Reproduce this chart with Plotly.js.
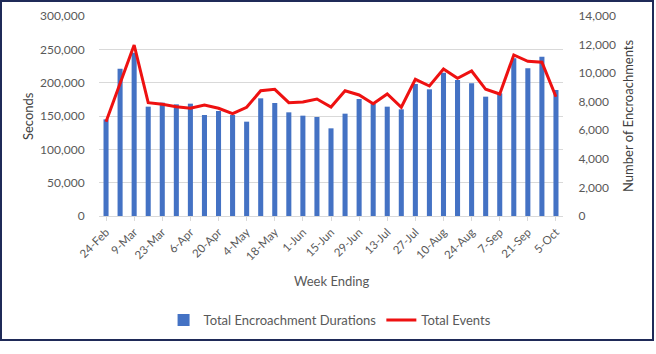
<!DOCTYPE html>
<html>
<head>
<meta charset="utf-8">
<script src="https://cdn.plot.ly/plotly-3.0.1.min.js"></script>
<style>
  html, body { margin: 0; padding: 0; background: #ffffff; }
  #wrap { position: relative; width: 656px; height: 354px; }
  #chart { position: absolute; left: 0; top: 0; width: 656px; height: 354px; }
  #frame { position: absolute; left: 0; top: 0; width: 650px; height: 337px;
           border: 2px solid #1f2a58; pointer-events: none; }
</style>
</head>
<body>
<div id="wrap">
  <div id="chart"></div>
  <div id="frame"></div>
</div>
<script>
const weeks = ["24-Feb","2-Mar","9-Mar","16-Mar","23-Mar","30-Mar","6-Apr","13-Apr","20-Apr","27-Apr",
  "4-May","11-May","18-May","25-May","1-Jun","8-Jun","15-Jun","22-Jun","29-Jun","6-Jul","13-Jul",
  "20-Jul","27-Jul","3-Aug","10-Aug","17-Aug","24-Aug","31-Aug","7-Sep","14-Sep","21-Sep","28-Sep","5-Oct"];

const durations = [145000, 221000, 245000, 164000, 170000, 167500, 168500, 151500, 157500, 151500,
  141500, 176500, 169500, 155500, 150500, 148500, 131500, 153500, 175500, 168000, 164000,
  160000, 198000, 190000, 215000, 204000, 199000, 179000, 184000, 236500, 221500, 239000, 189000];

const events = [6600, 9300, 11970, 7930, 7820, 7650, 7540, 7770, 7540, 7160,
  7610, 8770, 8870, 7930, 7980, 8190, 7630, 8770, 8470, 7860, 8540,
  7610, 9570, 9100, 10290, 9640, 10150, 8870, 8540, 11270, 10830, 10760, 8350];

const tickLabels = weeks.filter((w, i) => i % 2 === 0);

const seriesNames = ["Total Encroachment Durations", "Total Events"];
const axisTitles = { left: "Seconds", right: "Number of Encroachments", x: "Week Ending" };

const fontFam = "Lato, 'Open Sans', sans-serif";
const grey = "#595959";

const traces = [
  {
    type: "bar", name: seriesNames[0], x: weeks, y: durations,
    marker: { color: "#4472c4" }, yaxis: "y"
  },
  {
    type: "scatter", mode: "lines", name: seriesNames[1], x: weeks, y: events,
    line: { color: "#ee1111", width: 3 }, yaxis: "y2"
  }
];

const layout = {
  width: 656, height: 354,
  margin: { l: 99, r: 93, t: 16, b: 138 },
  paper_bgcolor: "rgba(0,0,0,0)", plot_bgcolor: "#ffffff",
  font: { family: fontFam, color: grey, size: 12 },
  bargap: 0.64,
  showlegend: true,
  legend: {
    orientation: "h", x: 0.498, xanchor: "center", y: -0.52, yanchor: "middle",
    font: { size: 13, color: grey }, itemwidth: 30, traceorder: "normal"
  },
  xaxis: {
    type: "category", tickmode: "array", tickvals: tickLabels, ticktext: tickLabels,
    tickangle: -45, tickfont: { size: 11.5, color: grey },
    showline: true, linecolor: "#d9d9d9", linewidth: 1,
    ticks: "outside", ticklen: 4, tickcolor: "#d9d9d9",
    showgrid: false, zeroline: false
  },
  yaxis: {
    range: [0, 300000], dtick: 50000, tickformat: ",d",
    showgrid: true, gridcolor: "#d9d9d9", gridwidth: 1,
    zeroline: false, showline: false,
    ticks: "outside", ticklen: 11, tickcolor: "rgba(0,0,0,0)",
    tickfont: { size: 12, color: grey }
  },
  yaxis2: {
    range: [0, 14000], dtick: 2000, tickformat: ",d",
    overlaying: "y", side: "right", showgrid: false, zeroline: false, showline: false,
    ticks: "outside", ticklen: 12, tickcolor: "rgba(0,0,0,0)",
    tickfont: { size: 12, color: grey }
  },
  annotations: [
    { text: axisTitles.left, xref: "paper", yref: "paper", x: -0.153, y: 0.5,
      textangle: -90, showarrow: false, xanchor: "center", yanchor: "middle",
      font: { size: 13, color: "#404040" } },
    { text: axisTitles.right, xref: "paper", yref: "paper", x: 1.140, y: 0.5,
      textangle: -90, showarrow: false, xanchor: "center", yanchor: "middle",
      font: { size: 13, color: "#404040" } },
    { text: axisTitles.x, xref: "paper", yref: "paper", x: 0.502, y: -0.325,
      showarrow: false, xanchor: "center", yanchor: "middle",
      font: { size: 13, color: grey } }
  ]
};

Plotly.newPlot("chart", traces, layout, { displayModeBar: false, staticPlot: true });
</script>
</body>
</html>
